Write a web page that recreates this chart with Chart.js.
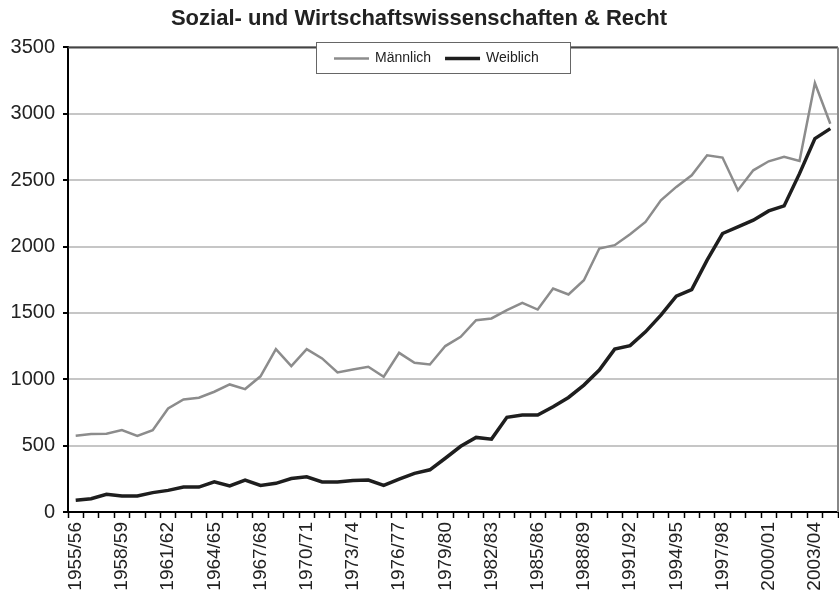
<!DOCTYPE html>
<html>
<head>
<meta charset="utf-8">
<script src="https://cdn.jsdelivr.net/npm/chart.js@4/dist/chart.umd.min.js"></script>
<style>
  html, body { margin: 0; padding: 0; background: #fff; }
  #wrap { width: 839px; height: 604px; }
</style>
</head>
<body>
<div id="wrap"><canvas id="studChart" width="839" height="604"></canvas></div>
<script>
const years = ["1955/56","1956/57","1957/58","1958/59","1959/60","1960/61","1961/62","1962/63","1963/64","1964/65",
  "1965/66","1966/67","1967/68","1968/69","1969/70","1970/71","1971/72","1972/73","1973/74","1974/75",
  "1975/76","1976/77","1977/78","1978/79","1979/80","1980/81","1981/82","1982/83","1983/84","1984/85",
  "1985/86","1986/87","1987/88","1988/89","1989/90","1990/91","1991/92","1992/93","1993/94","1994/95",
  "1995/96","1996/97","1997/98","1998/99","1999/00","2000/01","2001/02","2002/03","2003/04","2004/05"]

const maennlich = [574, 587, 589, 618, 574, 616, 780, 848, 861, 906,
  961, 926, 1022, 1227, 1099, 1227, 1157, 1051, 1074, 1094,
  1019, 1199, 1124, 1111, 1250, 1320, 1445, 1458, 1520, 1575,
  1525, 1684, 1639, 1746, 1985, 2010, 2092, 2185, 2348, 2449,
  2537, 2687, 2670, 2424, 2574, 2642, 2675, 2645, 3232, 2925]

const weiblich = [88, 100, 134, 120, 120, 146, 163, 188, 188, 228,
  196, 241, 200, 216, 252, 265, 226, 226, 238, 241,
  200, 247, 291, 318, 405, 495, 562, 549, 713, 730,
  730, 793, 863, 956, 1069, 1227, 1253, 1357, 1483, 1626,
  1676, 1897, 2098, 2148, 2198, 2268, 2306, 2549, 2813, 2888]

const yTicks = [0, 500, 1000, 1500, 2000, 2500, 3000, 3500]

// frame on top/right plus the boxed legend sitting on the top border
const frameAndLegend = {
    id: 'frameAndLegend',
    afterDraw(chart) {
        const ctx = chart.ctx
        const a = chart.chartArea
        ctx.save()
        ctx.strokeStyle = '#444'
        ctx.lineWidth = 2
        ctx.beginPath()
        ctx.moveTo(a.left, a.top)
        ctx.lineTo(a.right, a.top)
        ctx.stroke()
        ctx.strokeStyle = '#888'
        ctx.beginPath()
        ctx.moveTo(a.right, a.top)
        ctx.lineTo(a.right, a.bottom)
        ctx.stroke()

        const bx = 316, by = 42, bw = 254, bh = 31
        ctx.fillStyle = '#fff'
        ctx.fillRect(bx, by, bw, bh)
        ctx.strokeStyle = '#666'
        ctx.lineWidth = 1
        ctx.strokeRect(bx + 0.5, by + 0.5, bw, bh)

        ctx.font = '14px "Liberation Sans", Arial, sans-serif'
        ctx.textBaseline = 'middle'
        ctx.fillStyle = '#222'
        let x = bx + 18
        const cy = by + bh / 2 + 1
        chart.data.datasets.forEach(ds => {
            ctx.strokeStyle = ds.borderColor
            ctx.lineWidth = ds.borderWidth
            ctx.beginPath()
            ctx.moveTo(x, cy)
            ctx.lineTo(x + 35, cy)
            ctx.stroke()
            ctx.fillText(ds.label, x + 41, cy)
            x += 41 + ctx.measureText(ds.label).width + 14
        })
        ctx.restore()
    }
}

const ctx = document.getElementById('studChart').getContext('2d')
new Chart(ctx, {
    type: 'line',
    data: {
        labels: years,
        datasets: [{
            label: 'Männlich',
            data: maennlich,
            borderColor: '#8c8c8c',
            borderWidth: 2.5,
            pointRadius: 0,
            tension: 0
        }, {
            label: 'Weiblich',
            data: weiblich,
            borderColor: '#1e1e1e',
            borderWidth: 3.5,
            pointRadius: 0,
            tension: 0
        }]
    },
    options: {
        responsive: false,
        animation: false,
        layout: { padding: { left: 0, right: 1, top: 0, bottom: 0 } },
        plugins: {
            legend: { display: false },
            tooltip: { enabled: false },
            title: {
                display: true,
                text: 'Sozial- und Wirtschaftswissenschaften & Recht',
                color: '#222',
                font: { family: '"Liberation Sans", Arial, sans-serif', size: 22, weight: 'bold', lineHeight: 1.2 },
                padding: { top: 6, bottom: 15 }
            }
        },
        scales: {
            x: {
                offset: true,
                afterFit: s => { s.height = 92; s.paddingLeft = 0; s.paddingRight = 0 },
                border: { color: '#000', width: 2 },
                grid: {
                    display: true,
                    drawOnChartArea: false,
                    offset: true,
                    tickLength: 6,
                    tickColor: '#000',
                    tickWidth: 1.5
                },
                ticks: {
                    autoSkip: false,
                    maxRotation: 90,
                    minRotation: 90,
                    padding: 4,
                    color: '#222',
                    font: { family: '"Liberation Sans", Arial, sans-serif', size: 19 },
                    callback: (v, i) => i % 3 === 0 ? years[i] : ''
                }
            },
            y: {
                min: 0,
                max: 3500,
                afterFit: s => { s.width = 68 },
                afterBuildTicks: s => { s.ticks = yTicks.map(v => ({ value: v })) },
                border: { color: '#000', width: 2 },
                grid: {
                    color: '#c6c6c6',
                    lineWidth: 2,
                    tickColor: '#000',
                    tickLength: 5,
                    tickWidth: 2
                },
                ticks: {
                    padding: 8,
                    color: '#222',
                    font: { family: '"Liberation Sans", Arial, sans-serif', size: 20 },
                    callback: v => String(v)
                }
            }
        }
    },
    plugins: [frameAndLegend]
})
</script>
</body>
</html>
